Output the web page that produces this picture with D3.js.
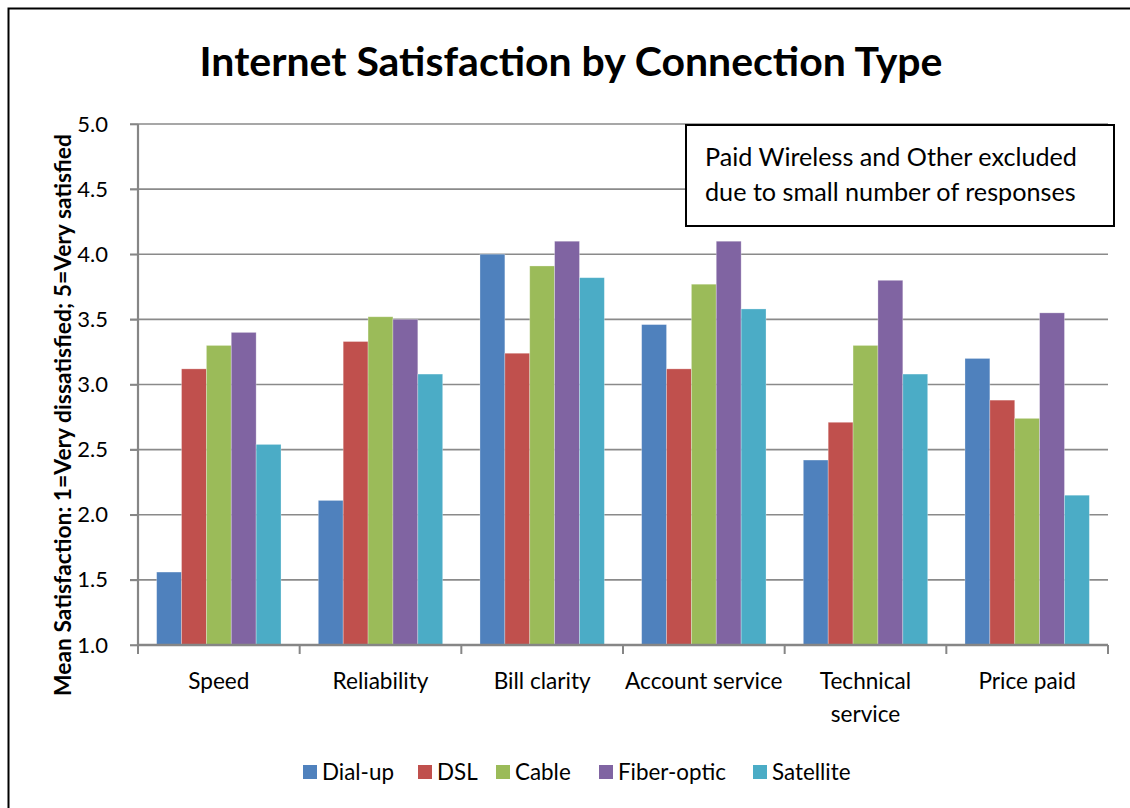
<!DOCTYPE html>
<html><head><meta charset="utf-8">
<script src="https://cdn.jsdelivr.net/npm/d3@7"></script>
<style>body{margin:0;background:#fff}svg{display:block}text{font-family:Lato,"Open Sans",sans-serif}</style>
</head><body>
<svg id="c" width="1130" height="808"></svg>
<script>
const categories = ["Speed","Reliability","Bill clarity","Account service","Technical service","Price paid"];
const seriesNames = ["Dial-up","DSL","Cable","Fiber-optic","Satellite"];
const dialup   = [1.56, 2.11, 4.00, 3.46, 2.42, 3.20];
const dsl      = [3.12, 3.33, 3.24, 3.12, 2.71, 2.88];
const cable    = [3.30, 3.52, 3.91, 3.77, 3.30, 2.74];
const fiber    = [3.40, 3.50, 4.10, 4.10, 3.80, 3.55];
const satellite= [2.54, 3.08, 3.82, 3.58, 3.08, 2.15];
const yTicks = [1.0,1.5,2.0,2.5,3.0,3.5,4.0,4.5,5.0];
const colors = ["#4F81BD","#C0504D","#9BBB59","#8064A2","#4BACC6"];
const values = [dialup, dsl, cable, fiber, satellite];

const svg = d3.select("#c");
function fit(sel, target){
  const fs = +sel.attr("font-size");
  const w = sel.node().getComputedTextLength();
  if (w>0) sel.attr("font-size", (fs*target/w).toFixed(2));
  return sel;
}
// outer frame
svg.append("path").attr("d","M8.5,820 V8.5 H1140").attr("fill","none").attr("stroke","#000").attr("stroke-width",2);

const L=138,R=1108,T=124,B=645;
const x = d3.scaleBand().domain(categories).range([L,R]).paddingInner(0).paddingOuter(0);
const x1 = d3.scaleBand().domain(seriesNames).range([0,x.bandwidth()]).paddingOuter(0.75).paddingInner(0);
const y = d3.scaleLinear().domain([1,5]).range([B,T]);

// gridlines
svg.append("g").selectAll("line").data(yTicks).join("line")
  .attr("x1",L-8).attr("x2",R).attr("y1",d=>y(d)).attr("y2",d=>y(d))
  .attr("stroke","#8a8a8a").attr("stroke-width",1.6);

// bars
const g = svg.append("g");
categories.forEach((c,i)=>{
  seriesNames.forEach((s,j)=>{
    g.append("rect").attr("x",x(c)+x1(s)).attr("width",x1.bandwidth())
      .attr("y",y(values[j][i])).attr("height",y(1)-y(values[j][i]))
      .attr("fill",colors[j]).attr("stroke","rgba(255,255,255,0.35)").attr("stroke-width",0.8);
  });
});

// y axis
const ya = svg.append("g").attr("transform",`translate(${L},0)`)
  .call(d3.axisLeft(y).tickValues(yTicks).tickFormat(d3.format(".1f")).tickSize(8).tickPadding(22));
ya.select(".domain").attr("stroke","#868686").attr("stroke-width",2.2).attr("d",`M0,${T}V${B}`);
ya.selectAll(".tick line").attr("stroke","#868686").attr("stroke-width",1.6);
ya.selectAll(".tick text").attr("font-size",22).attr("fill","#000").attr("font-family","Lato");

// x axis
const xa = svg.append("g").attr("transform",`translate(0,${B})`);
xa.append("line").attr("x1",L).attr("x2",R).attr("stroke","#868686").attr("stroke-width",2.6);
const bounds = categories.map(c=>x(c)).concat([R]);
xa.selectAll(".tk").data(bounds).join("line").attr("class","tk")
  .attr("x1",d=>d).attr("x2",d=>d).attr("y1",0).attr("y2",9).attr("stroke","#868686").attr("stroke-width",2);
categories.forEach(c=>{
  const words = c==="Technical service" ? ["Technical","service"] : [c];
  const t = xa.append("text").attr("text-anchor","middle").attr("font-size",22.6).attr("fill","#000")
    .attr("x",x(c)+x.bandwidth()/2).attr("y",44);
  words.forEach((w,k)=>t.append("tspan").attr("x",x(c)+x.bandwidth()/2).attr("dy",k?33:0).text(w));
});

// title
fit(svg.append("text").attr("x",571).attr("y",76).attr("text-anchor","middle")
  .attr("font-size",38).attr("font-weight","bold").attr("fill","#000")
  .text("Internet Satisfaction by Connection Type"), 743);

// y title
fit(svg.append("text").attr("transform","translate(71,415) rotate(-90)").attr("text-anchor","middle")
  .attr("font-size",19).attr("font-weight","bold").attr("fill","#000")
  .text("Mean Satisfaction: 1=Very dissatisfied; 5=Very satisfied"), 562);

// annotation
svg.append("rect").attr("x",686).attr("y",125).attr("width",428).attr("height",101)
  .attr("fill","#fff").attr("stroke","#000").attr("stroke-width",2);
fit(svg.append("text").attr("x",705).attr("y",166).attr("font-size",24).attr("fill","#000").text("Paid Wireless and Other excluded"), 372);
svg.append("text").attr("x",705).attr("y",201).attr("font-size",25.2).attr("fill","#000").text("due to small number of responses");

// legend
const legX = [303,418,496,599,753];
const lg = svg.append("g");
seriesNames.forEach((s,j)=>{
  lg.append("rect").attr("x",legX[j]).attr("y",765).attr("width",14).attr("height",14).attr("fill",colors[j]);
  lg.append("text").attr("x",legX[j]+19).attr("y",780).attr("font-size",22.4).attr("fill","#000").text(s);
});
</script>
</body></html>
